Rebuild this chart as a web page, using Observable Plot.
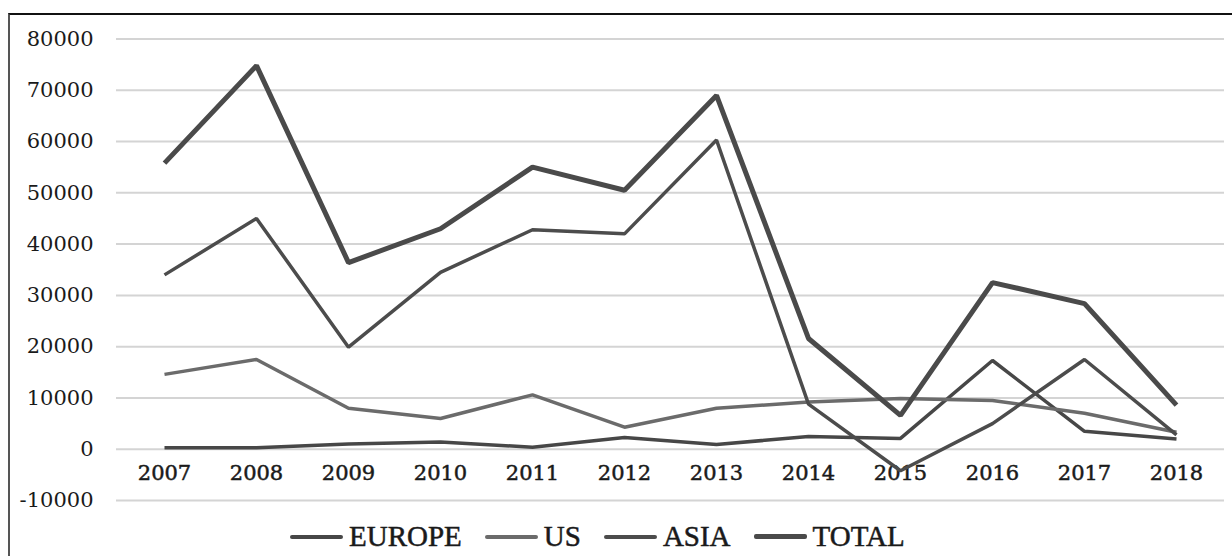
<!DOCTYPE html>
<html>
<head>
<meta charset="utf-8">
<script src="https://cdn.jsdelivr.net/npm/d3@7"></script>
<script src="https://cdn.jsdelivr.net/npm/@observablehq/plot@0.6"></script>
<style>
  html, body { margin: 0; padding: 0; background: #fff; }
  #wrap { position: relative; width: 1232px; height: 556px; overflow: hidden; background: #fff; }
  #frame { position: absolute; left: 8px; top: 13px; width: 1400px; height: 700px; border-top: 2px solid #111; border-left: 2px solid #555; }
  #chart { position: absolute; left: 0; top: 0; }
  #legend { position: absolute; left: 290px; top: 520px; display: flex; align-items: center; gap: 23px;
            font-family: "Liberation Serif", "Times New Roman", serif; font-size: 29px; color: #1a1a1a;
            -webkit-text-stroke: 0.5px #1a1a1a; }
  .item { display: flex; align-items: center; }
  .swatch { width: 53px; height: 0; margin-right: 6px; border-top-style: solid; border-radius: 2px; }
</style>
</head>
<body>
<div id="wrap">
  <div id="frame"></div>
  <div id="chart"></div>
  <div id="legend"></div>
</div>
<script>
const years = [2007, 2008, 2009, 2010, 2011, 2012, 2013, 2014, 2015, 2016, 2017, 2018];
const seriesNames = ["EUROPE", "US", "ASIA", "TOTAL"];
const europe = [300, 300, 1000, 1400, 400, 2300, 900, 2500, 2100, 17300, 3500, 2000];
const us     = [14600, 17500, 8000, 6000, 10600, 4300, 8000, 9200, 9900, 9500, 7000, 3300];
const asia   = [34000, 45000, 19900, 34500, 42800, 42000, 60300, 8800, -4200, 5000, 17500, 2800];
const total  = [55800, 74800, 36400, 43000, 55000, 50500, 69000, 21600, 6600, 32500, 28400, 8600];
const yTicks = [-10000, 0, 10000, 20000, 30000, 40000, 50000, 60000, 70000, 80000];

const values = { EUROPE: europe, US: us, ASIA: asia, TOTAL: total };
const styles = {
  EUROPE: { stroke: "#474747", width: 3.5 },
  US:     { stroke: "#6b6b6b", width: 3.5 },
  ASIA:   { stroke: "#4c4c4c", width: 3.5 },
  TOTAL:  { stroke: "#4a4a4a", width: 5 }
};

const rows = seriesNames.flatMap(s => years.map((yr, i) => ({ series: s, year: yr, value: values[s][i] })));

const lineMarks = seriesNames.map(s => Plot.line(rows.filter(d => d.series === s), {
  x: "year", y: "value",
  stroke: styles[s].stroke, strokeWidth: styles[s].width,
  strokeLinejoin: "miter", strokeLinecap: "butt"
}));

const chart = Plot.plot({
  width: 1232,
  height: 530,
  marginLeft: 116,
  marginRight: 8,
  marginTop: 38.5,
  marginBottom: 30,
  style: { fontFamily: "'DejaVu Serif', serif", fontSize: "21px", color: "#1a1a1a", background: "transparent", overflow: "visible" },
  x: { type: "point", domain: years, padding: 0.5, axis: null },
  y: { domain: [-10000, 80000], ticks: yTicks, axis: null },
  marks: [
    Plot.gridY(yTicks, { stroke: "#d4d4d4", strokeOpacity: 1, strokeWidth: 2 }),
    Plot.axisY(yTicks, { label: null, tickSize: 0, tickPadding: 23, tickFormat: d => String(d), fontSize: 21,
                         fill: "#1a1a1a", stroke: "#1a1a1a", strokeWidth: 0.5 }),
    Plot.text(years, { x: d => d, y: d => 0, dy: 24, text: d => String(d), fontSize: 21,
                       fill: "#1a1a1a", stroke: "#1a1a1a", strokeWidth: 0.5 }),
    ...lineMarks
  ]
});
document.getElementById("chart").appendChild(chart);

const legend = document.getElementById("legend");
for (const s of seriesNames) {
  const item = document.createElement("div");
  item.className = "item";
  const sw = document.createElement("span");
  sw.className = "swatch";
  sw.style.borderTopColor = styles[s].stroke;
  sw.style.borderTopWidth = (styles[s].width + 0.5) + "px";
  const lab = document.createElement("span");
  lab.textContent = s;
  item.appendChild(sw);
  item.appendChild(lab);
  legend.appendChild(item);
}
</script>
</body>
</html>
